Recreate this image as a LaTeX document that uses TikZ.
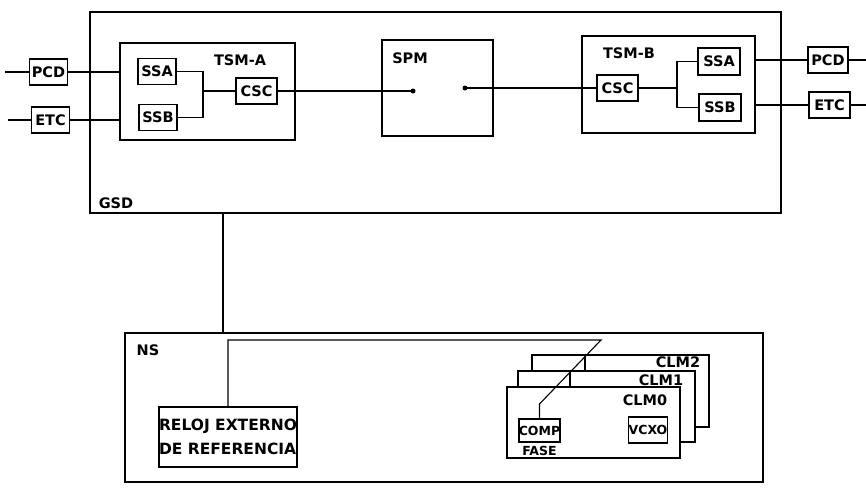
\documentclass[tikz,border=0pt]{standalone}
\usepackage{fontspec}
\setsansfont{DejaVu Sans}
\usetikzlibrary{positioning,calc}

\begin{document}
\begin{tikzpicture}[x=1pt,y=-1pt,font={\sffamily\bfseries\fontsize{14.5}{24}\selectfont},
  frame/.style={draw,line width=1.6pt,inner sep=0pt},
  unit/.style={draw,line width=1.5pt,inner sep=0pt,minimum width=38pt,minimum height=26pt},
  small/.style={font={\sffamily\bfseries\fontsize{12.5}{13}\selectfont}},
  wire/.style={line width=1.1pt}]
  \useasboundingbox (0,0) rectangle (866,491);

  \node[frame,minimum width=691pt,minimum height=201pt] (gsd) at (435.5,112.5) {};
  \node[frame,minimum width=175pt,minimum height=97pt] (tsma) at (207.5,91.5) {};
  \node[frame,minimum width=111pt,minimum height=96pt] (spm) at (437.5,88) {};
  \node[frame,minimum width=173pt,minimum height=97pt] (tsmb) at (668.5,84.5) {};
  \node[frame,minimum width=638pt,minimum height=149pt] (ns) at (444,407.5) {};

  \node (gsdlbl) at (116,203) {GSD};
  \node (tsmalbl) at (240,60) {TSM-A};
  \node (spmlbl) at (410,58) {SPM};
  \node (tsmblbl) at (629,53) {TSM-B};
  \node (nslbl) at (148,350) {NS};

  \node[unit] (pcdA) at (48.5,72) {PCD};
  \node[unit] (etcA) at (50.5,120) {ETC};
  \node[unit] (ssaA) at (157,71.5) {SSA};
  \node[unit] (ssbA) at (158,117.5) {SSB};
  \node[unit,minimum width=41pt] (cscA) at (256.5,91) {CSC};
  \node[unit,minimum width=41pt] (cscB) at (617.5,88) {CSC};
  \node[unit,minimum width=42pt,minimum height=27pt] (ssaB) at (719,61.5) {SSA};
  \node[unit,minimum width=42pt,minimum height=27pt] (ssbB) at (720,107.5) {SSB};
  \node[unit,minimum width=40pt] (pcdB) at (828,60) {PCD};
  \node[unit,minimum width=41pt] (etcB) at (829.5,105) {ETC};

  \coordinate (inA1) at (5,72);
  \coordinate (inA2) at (8,120);
  \coordinate (outB1) at (866,60);
  \coordinate (outB2) at (866,105);
  \coordinate (jA) at (203,91);
  \coordinate (jB) at (677,88);
  \coordinate (dl) at (413,91);
  \coordinate (dr) at (465,88);

  \draw[wire] (inA1) -- (pcdA);
  \draw[wire] (inA2) -- (etcA);
  \draw[wire] (pcdA) -- (pcdA -| tsma.west);
  \draw[wire] (etcA) -- (etcA -| tsma.west);
  \draw[wire] (ssaA) -| (jA) |- (ssbA);
  \draw[wire] (jA) -- (cscA);
  \draw[wire] (cscA) -- (dl);
  \draw[wire] (dr) -- (cscB);
  \fill (dl) circle (2.5pt);
  \fill (dr) circle (2.5pt);
  \draw[wire] (cscB) -- (jB);
  \draw[wire] (ssaB) -| (jB) |- (ssbB);
  \draw[wire] (pcdB) -- (pcdB -| tsmb.east);
  \draw[wire] (etcB) -- (etcB -| tsmb.east);
  \draw[wire] (pcdB) -- (outB1);
  \draw[wire] (etcB) -- (outB2);

  \coordinate (lk) at (223,0);
  \draw[wire] (lk |- gsd.south) -- (lk |- ns.north);

  \node[unit,minimum width=136pt,minimum height=60pt,align=left,
    font={\sffamily\bfseries\fontsize{15.5}{24}\selectfont}] (reloj) at (228,437) {RELOJ EXTERNO\\DE REFERENCIA};

  \node[frame,fill=white,minimum width=177pt,minimum height=72pt] (clm2) at (620.5,391) {};
  \node[frame,fill=white,minimum width=177pt,minimum height=71pt] (clm1) at (606.5,406.5) {};
  \node[frame,fill=white,minimum width=173pt,minimum height=71pt] (clm0) at (593.5,422.5) {};
  \node (clm2lbl) at (678,362) {CLM2};
  \node (clm1lbl) at (661,380) {CLM1};
  \node (clm0lbl) at (645,400) {CLM0};

  \node[unit,small,minimum width=39pt,minimum height=23pt] (comp) at (539.5,430.5) {COMP};
  \node[small] (fase) at (539.5,451) {FASE};
  \node[unit,small] (vcxo) at (648,430) {VCXO};

  \coordinate (cTop) at (601,340);
  \coordinate (cBend) at (539.5,404);
  \draw[wire] (reloj) |- (cTop) -- (cBend) -- (comp);
  \coordinate (t2) at (585,0);
  \coordinate (t1) at (570,0);
  \draw[wire] (t2 |- clm2.north) -- (t2 |- clm1.north);
  \draw[wire] (t1 |- clm1.north) -- (t1 |- clm0.north);
\end{tikzpicture}
\end{document}
